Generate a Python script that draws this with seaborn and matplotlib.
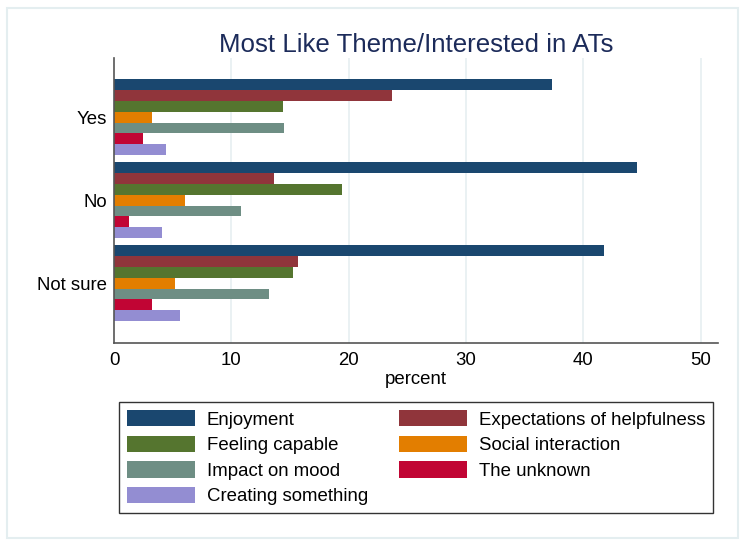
import matplotlib
matplotlib.use("Agg")
import matplotlib.pyplot as plt
import seaborn as sns
import pandas as pd
from matplotlib.patches import Rectangle

# ---- data ----
groups = ["Yes", "No", "Not sure"]
themes = ["Enjoyment", "Expectations of helpfulness", "Feeling capable",
          "Social interaction", "Impact on mood", "The unknown",
          "Creating something"]
yes_vals = [37.3, 23.67, 14.38, 3.21, 14.51, 2.44, 4.46]
no_vals = [44.57, 13.66, 19.41, 6.05, 10.80, 1.28, 4.12]
notsure_vals = [41.73, 15.65, 15.23, 5.22, 13.24, 3.21, 5.60]
colors = ["#1a476f", "#90353b", "#55752f", "#e37e00", "#6e8e84",
          "#c10534", "#938dd2"]
xticks = [0, 10, 20, 30, 40, 50]

rows = []
for g, vals in zip(groups, [yes_vals, no_vals, notsure_vals]):
    for t, v in zip(themes, vals):
        rows.append({"group": g, "theme": t, "percent": v})
df = pd.DataFrame(rows)

sns.set_style("white")
plt.rcParams["font.family"] = ["Liberation Sans", "DejaVu Sans"]
plt.rcParams["text.color"] = "black"
plt.rcParams["axes.labelcolor"] = "black"
plt.rcParams["xtick.color"] = "black"
plt.rcParams["ytick.color"] = "black"

FS = 13.4
W, H = 745, 546
fig = plt.figure(figsize=(W / 100, H / 100), dpi=100)
fig.patch.set_facecolor("white")
ax = fig.add_axes([114 / W, 1 - 342.7 / H, (718.4 - 114) / W, (342.7 - 58) / H])

sns.barplot(data=df, x="percent", y="group", hue="theme", order=groups,
            hue_order=themes, palette=colors, orient="h", width=0.912,
            saturation=1, linewidth=0, ax=ax, errorbar=None)

ax.set_xlim(0, 51.5)
ax.set_ylim(2.717, -0.713)
ax.set_xticks(xticks)
ax.set_xticklabels([str(t) for t in xticks], fontsize=FS)
ax.set_yticks(range(len(groups)))
ax.set_yticklabels(groups, fontsize=FS)
ax.tick_params(axis="x", length=5, width=1, color="#444444", pad=2)
ax.tick_params(axis="y", length=0, pad=5)
ax.set_xlabel("percent", fontsize=FS, labelpad=1)
ax.set_ylabel("")

for s in ["top", "right"]:
    ax.spines[s].set_visible(False)
for s in ["left", "bottom"]:
    ax.spines[s].set_color("#555555")
    ax.spines[s].set_linewidth(1.2)

for xv in xticks[1:]:
    ax.axvline(xv, color="#e6eff1", linewidth=1.2, zorder=0)
ax.set_axisbelow(True)

ax.set_title("Most Like Theme/Interested in ATs", fontsize=18.6,
             color="#1c2b5a", pad=4)

# legend (row-major ordering as in reference)
handles, labels = ax.get_legend_handles_labels()
if ax.get_legend() is not None:
    ax.get_legend().remove()
order = [0, 2, 4, 6, 1, 3, 5]
leg = fig.legend([handles[i] for i in order], [labels[i] for i in order],
                 ncol=2, mode="expand",
                 bbox_to_anchor=(119 / W, 1 - 513 / H, (713 - 119) / W, (513 - 402) / H),
                 loc="lower left", fontsize=FS, frameon=True, fancybox=False,
                 edgecolor="black", handlelength=3.66, handleheight=0.97,
                 handletextpad=0.65, labelspacing=0.38, borderpad=0.41,
                 borderaxespad=0)
leg.get_frame().set_linewidth(1.0)

# outer light frame
fig.patches.append(Rectangle((7.3 / W, 1 - 537.7 / H), (737.7 - 7.3) / W,
                             (537.7 - 7.5) / H, transform=fig.transFigure,
                             fill=False, edgecolor="#e4eef0", linewidth=1.5))

fig.savefig("out.png", dpi=100)
